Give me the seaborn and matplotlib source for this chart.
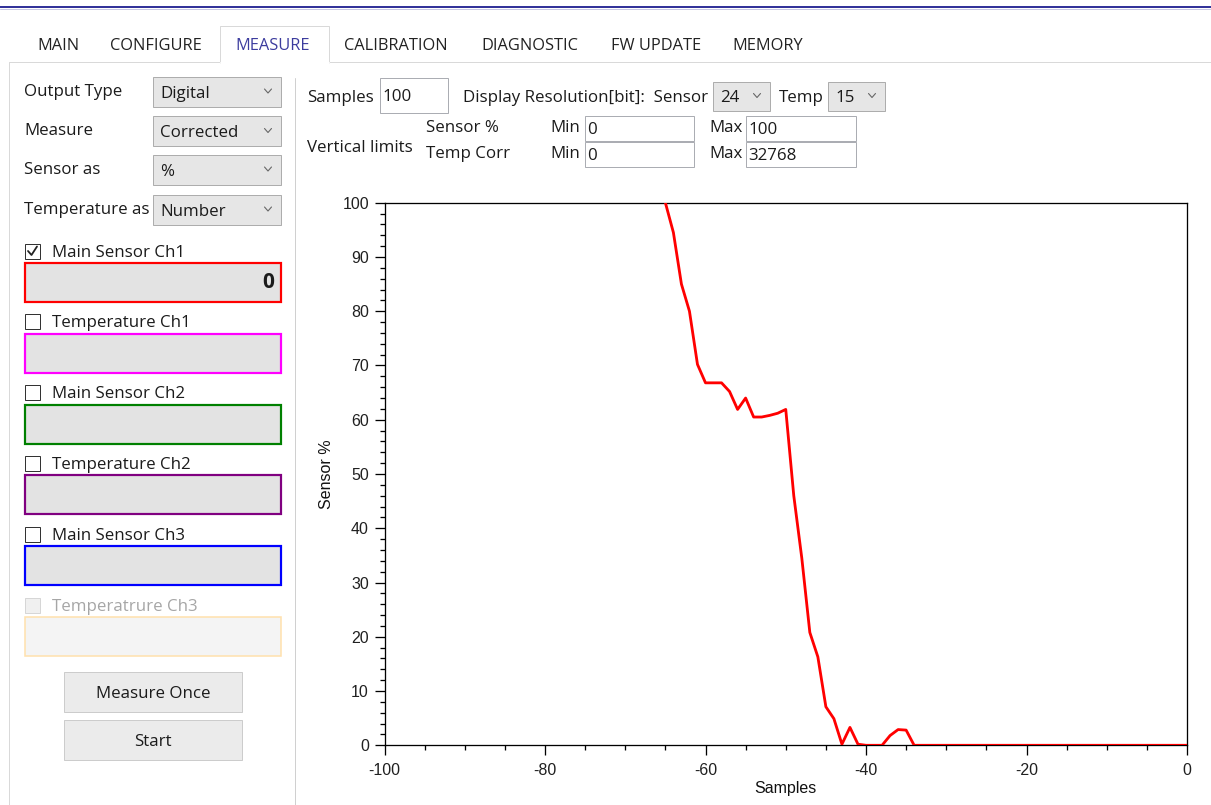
"""
Sensor tool, MEASURE tab: Sensor % trace of Main Sensor Ch1 over the last 100 samples.
"""

import matplotlib
matplotlib.use("Agg")
import matplotlib.pyplot as plt
from matplotlib.patches import Rectangle
from matplotlib.ticker import MultipleLocator
import seaborn as sns


# ── Data ───────────────────────────────────────────────────────────────────────

samples = list(range(-65, 1))
sensor_pct = [
    100.0, 94.5, 85.0, 80.0, 70.2, 66.8, 66.8, 66.8, 65.2, 61.9,   # -65 .. -56
    64.0, 60.5, 60.5, 60.8, 61.2, 61.9, 46.0, 34.5, 20.8, 16.3,    # -55 .. -46
    7.1, 4.9, 0.2, 3.3, 0.2, 0.0, 0.0, 0.0, 1.8, 2.9,              # -45 .. -36
    2.8, 0.0, 0.0, 0.0, 0.0, 0.0, 0.0, 0.0, 0.0, 0.0,              # -35 .. -26
    0.0, 0.0, 0.0, 0.0, 0.0, 0.0, 0.0, 0.0, 0.0, 0.0,              # -25 .. -16
    0.0, 0.0, 0.0, 0.0, 0.0, 0.0, 0.0, 0.0, 0.0, 0.0,              # -15 .. -6
    0.0, 0.0, 0.0, 0.0, 0.0, 0.0,                                  # -5 .. 0
]

tab_names = ["MAIN", "CONFIGURE", "MEASURE", "CALIBRATION", "DIAGNOSTIC", "FW UPDATE", "MEMORY"]
selected_tab = "MEASURE"

option_labels = ["Output Type", "Measure", "Sensor as", "Temperature as"]
option_values = ["Digital", "Corrected", "%", "Number"]

channel_names = ["Main Sensor Ch1", "Temperature Ch1", "Main Sensor Ch2",
                 "Temperature Ch2", "Main Sensor Ch3", "Temperatrure Ch3"]
channel_colors = ["#ff0000", "#ff00ff", "#008000", "#800080", "#0000ff", "#ffe2b0"]
channel_values = ["0", "", "", "", "", ""]
channel_checked = [True, False, False, False, False, False]
channel_enabled = [True, True, True, True, True, False]

n_samples = "100"
sensor_bits = "24"
temp_bits = "15"
limit_names = ["Sensor %", "Temp Corr"]
limit_min = ["0", "0"]
limit_max = ["100", "32768"]

x_range = (-100, 0)
y_range = (0, 100)


# ── Styling ────────────────────────────────────────────────────────────────────

W, H = 1211, 805
PT = 0.72                       # one pixel in points at dpi=100
GUI_FONT = ["Open Sans", "DejaVu Sans"]
PLOT_FONT = ["Liberation Sans", "DejaVu Sans"]
GUI_SIZE = 12.2
TXT = "#1b1b1b"

sns.set_style("ticks")
plt.rcParams["font.family"] = GUI_FONT
plt.rcParams["axes.unicode_minus"] = False

fig = plt.figure(figsize=(W / 100, H / 100), dpi=100)
fig.patch.set_facecolor("white")

# full-size overlay in pixel coordinates for the window chrome
ui = fig.add_axes([0, 0, 1, 1])
ui.set_xlim(0, W)
ui.set_ylim(H, 0)
ui.axis("off")


def box(x0, y0, x1, y1, fc, ec, lw=1.0, z=1):
    ui.add_patch(Rectangle((x0, y0), x1 - x0, y1 - y0, facecolor=fc,
                           edgecolor=ec, linewidth=lw * PT, zorder=z))


def label(x, y, s, color=TXT, size=GUI_SIZE, ha="left", weight="normal"):
    ui.text(x, y + 1.5, s, ha=ha, va="center", fontsize=size, color=color,
            family=GUI_FONT, fontweight=weight, zorder=5)


def chevron(xc, yc, color="#666666"):
    ui.plot([xc - 3.5, xc, xc + 3.5], [yc - 2, yc + 2, yc - 2],
            color=color, lw=1.1 * PT, zorder=5)


def combo(x0, y0, x1, y1, text):
    box(x0, y0, x1, y1, "#e6e6e6", "#adadad")
    label(x0 + 7, (y0 + y1) / 2, text)
    chevron(x1 - 13, (y0 + y1) / 2 - 1)


def entry(x0, y0, x1, y1, text):
    box(x0, y0, x1, y1, "white", "#abadb3")
    label(x0 + 2, (y0 + y1) / 2, text)


def checkbox(x0, yc, checked, enabled):
    ec = "#333333" if enabled else "#d6d6d6"
    fc = "white" if enabled else "#f0f0f0"
    box(x0, yc - 7.5, x0 + 15, yc + 7.5, fc, ec)
    if checked:
        ui.plot([x0 + 3, x0 + 6.5, x0 + 12], [yc, yc + 4, yc - 4.5],
                color="#222222", lw=1.8 * PT, zorder=6)


# ── Window chrome ──────────────────────────────────────────────────────────────

ui.plot([0, W], [7, 7], color="#33339a", lw=2 * PT, zorder=3)
ui.plot([0, W], [9, 9], color="#c8c8e4", lw=1 * PT, zorder=3)

# tab strip
ui.plot([9, W], [62.5, 62.5], color="#d9d9d9", lw=1 * PT, zorder=2)
ui.plot([9, 9], [62.5, H], color="#d9d9d9", lw=1 * PT, zorder=2)
box(220, 26, 329, 63.5, "white", "#d9d9d9", z=3)
ui.plot([220.5, 328.5], [63, 63], color="white", lw=2 * PT, zorder=4)

tab_left = [37, 110, 235, 344, 481, 611, 732]
for name, x in zip(tab_names, tab_left):
    sel = name == selected_tab
    label(x, 45, name, color="#3c3c9e" if sel else "#222222", size=11.8)

# left panel separator
ui.plot([295, 295], [78, H], color="#d0d0d0", lw=1 * PT, zorder=2)

# output options
opt_rows = [92, 131.5, 170, 210]
for lab, val, yc in zip(option_labels, option_values, opt_rows):
    label(24, yc - 2, lab)
    combo(153, yc - 15, 281, yc + 15, val)

# channel read-outs
row_y0, row_step = 251, 70.8
for i, (name, col) in enumerate(zip(channel_names, channel_colors)):
    yc = row_y0 + i * row_step
    en = channel_enabled[i]
    checkbox(25, yc, channel_checked[i], en)
    label(52, yc, name, color=TXT if en else "#a6a6a6")
    fc = "#e3e3e3" if en else "#f4f4f4"
    box(25, yc + 12, 281, yc + 51, fc, col, lw=2.2 if en else 1.6)
    if channel_values[i]:
        label(274, yc + 30, channel_values[i], size=15, ha="right", weight="bold")

# buttons
for txt, y0 in [("Measure Once", 672), ("Start", 720)]:
    box(64, y0, 242, y0 + 40, "#ebebeb", "#cccccc")
    label(153, y0 + 20, txt, ha="center")

# acquisition settings
label(307, 96, "Samples")
entry(380, 78, 448, 113, n_samples)
label(463, 96, "Display Resolution[bit]:  Sensor")
combo(713, 82, 770, 111, sensor_bits)
label(779, 96, "Temp")
combo(828, 82, 885, 111, temp_bits)

label(307, 146, "Vertical limits")
for j, (nm, lo, hi) in enumerate(zip(limit_names, limit_min, limit_max)):
    y0 = 116 + j * 26
    yc = y0 + 12.5
    label(426, yc - 1.5, nm)
    label(550, yc - 1.5, "Min")
    entry(585, y0, 694, y0 + 25.5, lo)
    label(709, yc - 1.5, "Max")
    entry(746, y0, 856, y0 + 25.5, hi)


# ── Plot ───────────────────────────────────────────────────────────────────────

left, right, top, bottom = 384.5, 1187, 202.7, 745.3
ax = fig.add_axes([left / W, (H - bottom) / H, (right - left) / W, (bottom - top) / H])
ax.set_facecolor("white")

sns.lineplot(x=samples, y=sensor_pct, color="#ff0000", linewidth=2.8 * PT,
             ax=ax, zorder=3)

ax.set_xlim(*x_range)
ax.set_ylim(*y_range)
ax.xaxis.set_major_locator(MultipleLocator(20))
ax.xaxis.set_minor_locator(MultipleLocator(5))
ax.yaxis.set_major_locator(MultipleLocator(10))
ax.yaxis.set_minor_locator(MultipleLocator(2))

for sp in ax.spines.values():
    sp.set_visible(True)
    sp.set_color("black")
    sp.set_linewidth(1.3 * PT)

ax.tick_params(which="major", direction="out", length=10 * PT, width=1.3 * PT,
               color="black", labelsize=11.5, labelcolor="#202020")
ax.tick_params(which="minor", direction="out", length=5 * PT, width=1.3 * PT,
               color="black")
ax.tick_params(axis="x", which="major", pad=5.5)
ax.tick_params(axis="y", which="major", pad=4)
for t in ax.get_xticklabels() + ax.get_yticklabels():
    t.set_family(PLOT_FONT)

ax.set_xlabel("Samples", family=PLOT_FONT, fontsize=11.5, color="#111111", labelpad=2)
ax.set_ylabel("Sensor %", family=PLOT_FONT, fontsize=11.5, color="#111111", labelpad=6)

plt.savefig("out.png", dpi=100)
plt.close()
